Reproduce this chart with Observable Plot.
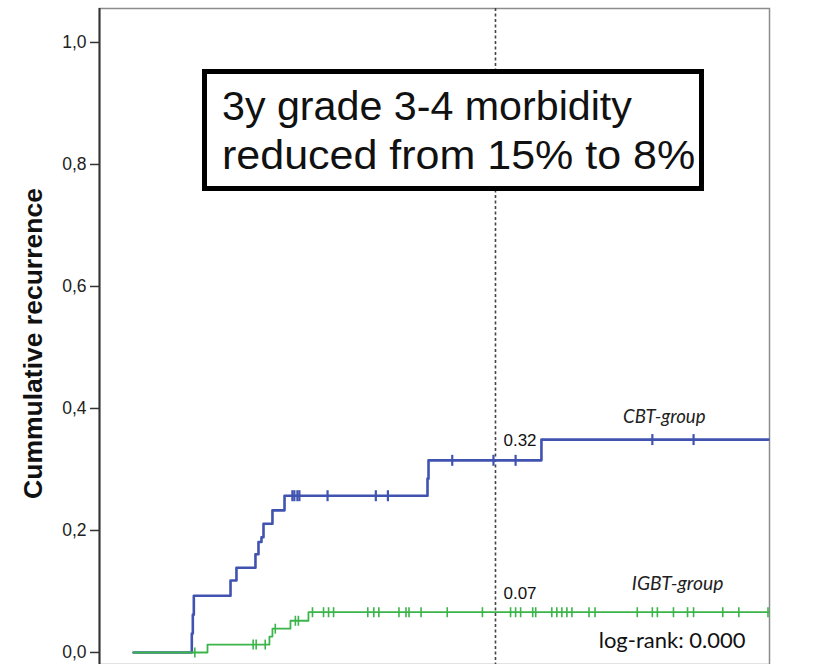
<!DOCTYPE html>
<html>
<head>
<meta charset="utf-8">
<script src="https://cdn.jsdelivr.net/npm/d3@7"></script>
<script src="https://cdn.jsdelivr.net/npm/@observablehq/plot@0.6"></script>
<style>
  html, body { margin: 0; padding: 0; background: #fff; }
  #wrap { position: relative; width: 837px; height: 664px; overflow: hidden; }
  #note {
    position: absolute; left: 202px; top: 69px; width: 477px; height: 104px;
    border: 5px solid #000; background: #fff;
    font-family: "Liberation Sans", Arial, sans-serif; font-size: 40px; line-height: 49px;
    color: #111; padding: 8px 0 0 15px; box-sizing: content-box; white-space: nowrap;
  }
  #note span { display: inline-block; transform-origin: left center; }
</style>
</head>
<body>
<div id="wrap"></div>
<script>
// Time in months; cumulative recurrence values
const cbtTimes  = [0, 5.8, 5.9, 6.0, 9.65, 10.24, 12.13, 12.43, 12.73, 12.93, 13.82, 15.02, 29.24, 29.34, 40.57, 63.15];
const cbtValues = [0, 0.031, 0.062, 0.093, 0.118, 0.139, 0.161, 0.181, 0.189, 0.211, 0.233, 0.257, 0.285, 0.315, 0.349, 0.349];
const cbtCensored = [15.8, 16.0, 16.3, 16.5, 19.3, 24.1, 25.3, 31.7, 35.8, 38.0, 51.6, 55.7];

const igbtTimes  = [0, 7.36, 13.52, 13.82, 15.61, 17.40, 63.15];
const igbtValues = [0, 0.013, 0.026, 0.039, 0.052, 0.066, 0.066];
const igbtCensored = [6.1, 11.9, 12.2, 13.1, 14.1, 16.1, 16.4, 17.8, 18.9, 19.4, 19.9, 23.3, 23.9, 24.4,
  26.4, 27.1, 27.4, 28.6, 31.2, 34.7, 37.5, 38.0, 38.5, 39.7, 40.0, 41.6, 42.1, 42.6, 43.1, 43.6,
  45.3, 45.9, 50.1, 51.6, 52.1, 53.7, 55.1, 55.7, 58.6, 60.2, 63.1];

const yTicks = [0, 0.2, 0.4, 0.6, 0.8, 1.0];
const yTickLabels = ["0,0", "0,2", "0,4", "0,6", "0,8", "1,0"];
const threeYear = 36;
const cbtAt3y = "0.32";
const igbtAt3y = "0.07";
const noteLines = ["3y grade 3-4 morbidity", "reduced from 15% to 8%"];
const noteStretch = [1.03, 1.075];

const blue = "#4053b0";
const green = "#3bb54a";

const series = (times, values) => times.map((t, i) => ({t, v: values[i]}));
const levelAt = (times, values) => t => {
  let v = values[0];
  for (let i = 0; i < times.length; i++) if (times[i] <= t) v = values[i];
  return v;
};
const cbtLevel = levelAt(cbtTimes, cbtValues);
const igbtLevel = levelAt(igbtTimes, igbtValues);
const cbtMarks = cbtCensored.map(t => ({t, v: cbtLevel(t)}));
const igbtMarks = igbtCensored.map(t => ({t, v: igbtLevel(t)}));

const vbar = {
  draw(ctx, size) {
    const r = Math.sqrt(size / Math.PI);
    ctx.moveTo(0, -r);
    ctx.lineTo(0, r);
  }
};

const xDomain = [-3.38, 63.25];

const chart = Plot.plot({
  width: 837,
  height: 664,
  marginLeft: 99,
  marginRight: 68,
  marginTop: 8,
  marginBottom: 0,
  style: {fontFamily: "'Liberation Sans', Arial, sans-serif", background: "#fff", color: "#222"},
  x: {domain: xDomain, axis: null},
  y: {domain: [-0.0197, 1.0557], axis: null},
  marks: [
    Plot.frame({stroke: "#8c8c8c", strokeWidth: 1.5}),
    Plot.ruleX([xDomain[0]], {stroke: "#333", strokeWidth: 2}),
    Plot.axisY({
      ticks: yTicks, tickFormat: () => "",
      tickSize: 9, stroke: "#333", strokeWidth: 1.5, label: null
    }),
    Plot.text(yTicks, {
      y: d => d, text: (d, i) => yTickLabels[i], frameAnchor: "left", dx: -13,
      textAnchor: "end", fontSize: 17.5, fill: "#222"
    }),
    Plot.text(["Cummulative recurrence"], {
      frameAnchor: "left", rotate: -90, dx: -66, dy: 7, textAnchor: "middle",
      fontSize: 26.5, fontWeight: "bold", fill: "#111"
    }),
    Plot.ruleX([threeYear], {stroke: "#444", strokeWidth: 1.6, strokeDasharray: "3,2.5"}),
    Plot.line(series(cbtTimes, cbtValues), {x: "t", y: "v", curve: "step-after", stroke: blue, strokeWidth: 2.6}),
    Plot.dot(cbtMarks, {x: "t", y: "v", symbol: vbar, r: 5.5, stroke: blue, strokeWidth: 2.2, fill: "none"}),
    Plot.line(series(igbtTimes, igbtValues), {x: "t", y: "v", curve: "step-after", stroke: green, strokeWidth: 1.8}),
    Plot.dot(igbtMarks, {x: "t", y: "v", symbol: vbar, r: 5, stroke: green, strokeWidth: 1.6, fill: "none"}),
    Plot.text([cbtAt3y], {x: threeYear, y: +cbtAt3y, dx: 8, dy: -17, textAnchor: "start", fontSize: 17, fill: "#111"}),
    Plot.text([igbtAt3y], {x: threeYear, y: +igbtAt3y, dx: 8, dy: -16, textAnchor: "start", fontSize: 17, fill: "#111"}),
    Plot.text(["CBT-group"], {x: xDomain[1], y: cbtValues[cbtValues.length - 1], dx: -64, dy: -23,
      textAnchor: "end", fontSize: 18.6, fontStyle: "italic", fontFamily: "Lato", fill: "#222"}),
    Plot.text(["IGBT-group"], {x: xDomain[1], y: igbtValues[igbtValues.length - 1], dx: -46, dy: -28,
      textAnchor: "end", fontSize: 19.3, fontStyle: "italic", fontFamily: "Lato", fill: "#222"}),
    Plot.text(["log-rank: 0.000"], {frameAnchor: "bottom-right", dx: -24, dy: -17,
      textAnchor: "end", fontSize: 22, fontFamily: "Lato", fill: "#111"})
  ]
});

const wrap = document.getElementById("wrap");
wrap.appendChild(chart);
const note = document.createElement("div");
note.id = "note";
noteLines.forEach((line, i) => {
  if (i) note.appendChild(document.createElement("br"));
  const s = document.createElement("span");
  s.textContent = line;
  s.style.transform = `scaleX(${noteStretch[i]})`;
  note.appendChild(s);
});
wrap.appendChild(note);
</script>
</body>
</html>
